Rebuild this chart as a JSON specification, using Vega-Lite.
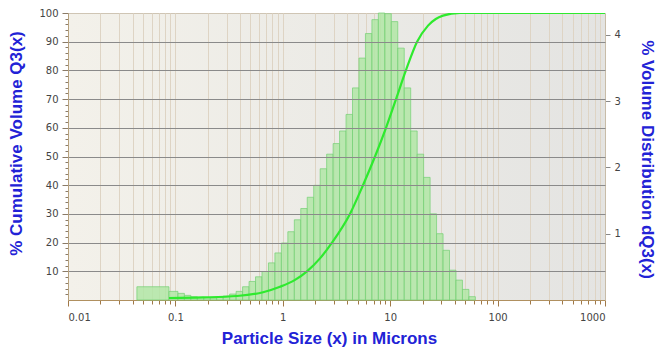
{
  "$schema": "https://vega.github.io/schema/vega-lite/v6.json",
  "autosize": {"type": "none"},
  "padding": {"left": 68, "top": 13, "right": 52, "bottom": 47},
  "width": 537,
  "height": 287,
  "background": "white",
  "config": {
    "view": {
      "stroke": "#cfc5b4",
      "strokeWidth": 1,
      "fill": {"gradient": "linear", "x1": 0, "y1": 0, "x2": 1, "y2": 0, "stops": [{"offset": 0, "color": "#f3f1ea"}, {"offset": 1, "color": "#e4e4e2"}]}
    },
    "axis": {
      "labelFont": "DejaVu Sans",
      "labelFontSize": 10,
      "labelColor": "#444444",
      "titleFont": "Liberation Sans",
      "titleFontSize": 17,
      "titleFontWeight": "bold",
      "titleColor": "#2222d6"
    }
  },
  "datasets": {
    "hist": [
      {"x0": 0.0438, "x1": 0.0871, "v": 0.2},
      {"x0": 0.0871, "x1": 0.10556, "v": 0.13},
      {"x0": 0.10556, "x1": 0.12126, "v": 0.10},
      {"x0": 0.12126, "x1": 0.13929, "v": 0.07},
      {"x0": 0.13929, "x1": 0.16, "v": 0.05},
      {"x0": 0.16, "x1": 0.18379, "v": 0.04},
      {"x0": 0.18379, "x1": 0.21112, "v": 0.035},
      {"x0": 0.21112, "x1": 0.24251, "v": 0.03},
      {"x0": 0.24251, "x1": 0.27858, "v": 0.04},
      {"x0": 0.27858, "x1": 0.32, "v": 0.06},
      {"x0": 0.32, "x1": 0.36758, "v": 0.09},
      {"x0": 0.36758, "x1": 0.42224, "v": 0.13},
      {"x0": 0.42224, "x1": 0.48503, "v": 0.2},
      {"x0": 0.48503, "x1": 0.55715, "v": 0.28},
      {"x0": 0.55715, "x1": 0.64, "v": 0.35},
      {"x0": 0.64, "x1": 0.73517, "v": 0.43},
      {"x0": 0.73517, "x1": 0.84449, "v": 0.56},
      {"x0": 0.84449, "x1": 0.97006, "v": 0.71},
      {"x0": 0.97006, "x1": 1.1143, "v": 0.86},
      {"x0": 1.1143, "x1": 1.28, "v": 1.03},
      {"x0": 1.28, "x1": 1.4703, "v": 1.21},
      {"x0": 1.4703, "x1": 1.689, "v": 1.38},
      {"x0": 1.689, "x1": 1.9401, "v": 1.55},
      {"x0": 1.9401, "x1": 2.2286, "v": 1.73},
      {"x0": 2.2286, "x1": 2.56, "v": 1.98},
      {"x0": 2.56, "x1": 2.9407, "v": 2.2},
      {"x0": 2.9407, "x1": 3.378, "v": 2.36},
      {"x0": 3.378, "x1": 3.8802, "v": 2.55},
      {"x0": 3.8802, "x1": 4.4572, "v": 2.8},
      {"x0": 4.4572, "x1": 5.12, "v": 3.2},
      {"x0": 5.12, "x1": 5.8813, "v": 3.65},
      {"x0": 5.8813, "x1": 6.7559, "v": 4.02},
      {"x0": 6.7559, "x1": 7.7605, "v": 4.23},
      {"x0": 7.7605, "x1": 8.9144, "v": 4.33},
      {"x0": 8.9144, "x1": 10.24, "v": 4.32},
      {"x0": 10.24, "x1": 11.763, "v": 4.2},
      {"x0": 11.763, "x1": 13.512, "v": 3.8},
      {"x0": 13.512, "x1": 15.521, "v": 3.2},
      {"x0": 15.521, "x1": 17.829, "v": 2.55},
      {"x0": 17.829, "x1": 20.48, "v": 2.2},
      {"x0": 20.48, "x1": 23.525, "v": 1.85},
      {"x0": 23.525, "x1": 27.024, "v": 1.3},
      {"x0": 27.024, "x1": 31.042, "v": 1.0},
      {"x0": 31.042, "x1": 35.658, "v": 0.75},
      {"x0": 35.658, "x1": 40.96, "v": 0.45},
      {"x0": 40.96, "x1": 47.05, "v": 0.3},
      {"x0": 47.05, "x1": 54.047, "v": 0.16},
      {"x0": 54.047, "x1": 62.083, "v": 0.05}
    ],
    "cum": [
      {"size": 0.0871, "q3": 0.7},
      {"size": 0.1807, "q3": 0.9},
      {"size": 0.375, "q3": 1.4},
      {"size": 0.655, "q3": 2.7},
      {"size": 0.942, "q3": 4.6},
      {"size": 1.3, "q3": 7.0},
      {"size": 1.68, "q3": 10},
      {"size": 2.22, "q3": 14.5},
      {"size": 2.87, "q3": 20},
      {"size": 4.22, "q3": 30},
      {"size": 5.58, "q3": 40},
      {"size": 7.22, "q3": 50},
      {"size": 9.14, "q3": 60},
      {"size": 11.33, "q3": 70},
      {"size": 14.0, "q3": 80},
      {"size": 17.8, "q3": 90},
      {"size": 22.5, "q3": 95.6},
      {"size": 31.0, "q3": 99.1},
      {"size": 44.7, "q3": 100},
      {"size": 1000, "q3": 100}
    ]
  },
  "layer": [
    {
      "data": {"name": "hist"},
      "mark": {"type": "rect", "fill": "#b2e6a6", "fillOpacity": 0.85, "stroke": "#72d072", "strokeWidth": 0.7},
      "encoding": {
        "x": {
          "field": "x0", "type": "quantitative",
          "scale": {"type": "log", "domain": [0.01, 1000], "nice": false},
          "axis": {
            "title": "Particle Size (x) in Microns",
            "titleX": 261, "titleY": 38, "titleAlign": "center", "titleBaseline": "middle",
            "values": [0.01,0.02,0.03,0.04,0.05,0.06,0.07,0.08,0.09,0.1,0.2,0.3,0.4,0.5,0.6,0.7,0.8,0.9,1,2,3,4,5,6,7,8,9,10,20,30,40,50,60,70,80,90,100,200,300,400,500,600,700,800,900,1000],
            "labelExpr": "abs(log(datum.value)/LN10 - round(log(datum.value)/LN10)) < 1e-6 ? format(datum.value, '~g') : ''",
            "labelOverlap": false,
            "labelPadding": 6,
            "domainColor": "#b09060",
            "tickColor": "#a07848",
            "tickSize": {"condition": {"test": "abs(log(datum.value)/LN10 - round(log(datum.value)/LN10)) < 1e-6", "value": 6}, "value": 4},
            "grid": true,
            "gridColor": "#ded4c4",
            "gridWidth": 1
          }
        },
        "x2": {"field": "x1"},
        "y": {
          "field": "v", "type": "quantitative",
          "scale": {"domain": [0, 4.33], "nice": false, "zero": true},
          "axis": {
            "orient": "right",
            "title": "% Volume Distribution dQ3(x)",
            "titleX": 41, "titleY": 146, "titleAngle": 90, "titleAlign": "center", "titleBaseline": "middle",
            "values": [1, 2, 3, 4],
            "tickSize": 5,
            "tickColor": "#888888",
            "domainColor": "#c8bca8",
            "grid": false,
            "labelPadding": 4
          }
        },
        "y2": {"datum": 0}
      }
    },
    {
      "data": {"name": "cum"},
      "mark": {"type": "line", "color": "#2eea2e", "strokeWidth": 2.2, "interpolate": "monotone", "clip": true},
      "encoding": {
        "x": {"field": "size", "type": "quantitative", "scale": {"type": "log", "domain": [0.01, 1000], "nice": false}},
        "y": {
          "field": "q3", "type": "quantitative",
          "scale": {"domain": [0, 100], "nice": false},
          "axis": {
            "orient": "left",
            "zindex": 1,
            "title": "% Cumulative Volume Q3(x)",
            "titleX": -52, "titleY": 130, "titleAngle": -90, "titleAlign": "center", "titleBaseline": "middle",
            "values": [2,4,6,8,10,12,14,16,18,20,22,24,26,28,30,32,34,36,38,40,42,44,46,48,50,52,54,56,58,60,62,64,66,68,70,72,74,76,78,80,82,84,86,88,90,92,94,96,98,100],
            "labelExpr": "datum.value % 10 === 0 ? datum.label : ''",
            "labelOverlap": false,
            "labelPadding": 4,
            "tickSize": {"condition": {"test": "datum.value % 10 === 0", "value": 6}, "value": 3},
            "tickColor": "#8a7a66",
            "domainColor": "#b8a27e",
            "grid": true,
            "gridColor": "#8a8a8a",
            "gridWidth": 1,
            "gridOpacity": {"condition": {"test": "datum.value % 10 === 0 && datum.value < 100", "value": 1}, "value": 0}
          }
        }
      }
    }
  ],
  "resolve": {"scale": {"y": "independent"}}
}
